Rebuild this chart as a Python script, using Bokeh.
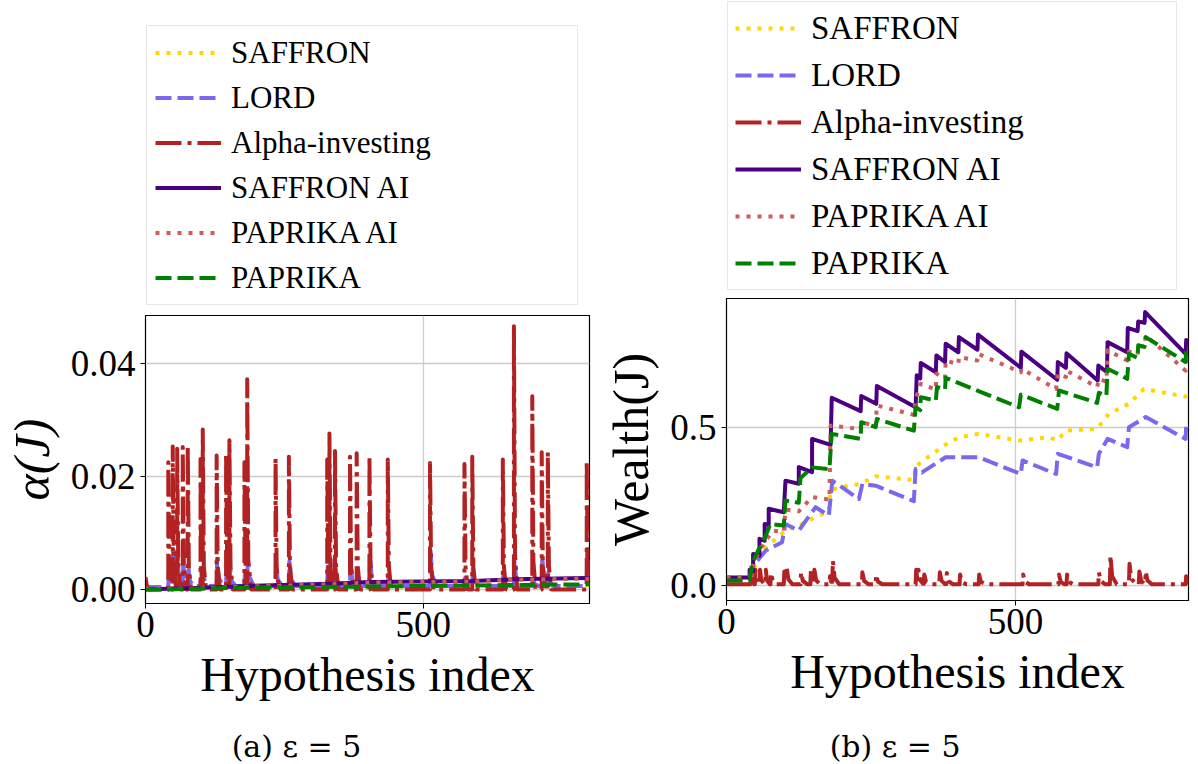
from bokeh.plotting import figure
from bokeh.models import Legend, LegendItem, FixedTicker, Range1d, NumeralTickFormatter, Label
from bokeh.layouts import row, column
from bokeh.embed import file_html
from bokeh.resources import INLINE

# ---------------- data ----------------
SERIES = ["SAFFRON", "LORD", "Alpha-investing", "SAFFRON AI", "PAPRIKA AI", "PAPRIKA"]
X_TICKS = [0, 500]
Y_TICKS_A = [0.0, 0.02, 0.04]
Y_TICKS_B = [0.0, 0.5]
CAPTIONS = ["(a) ε = 5", "(b) ε = 5"]

# --- panel (a): alpha(J) ---
A_SAFFRON_X = [0, 40, 100, 183, 330, 436, 600, 800]
A_SAFFRON_Y = [0.0002, 0.0002, 0.0003, 0.0004, 0.0005, 0.0005, 0.0006, 0.0007]

IDX_DECAY = [0, 40,
             41, 42, 44, 48, 49, 50, 52, 56, 57, 58, 60, 66, 67, 68, 70, 75, 76, 77, 80, 86,
             99, 100, 102, 103, 104, 107, 114, 128, 129, 132, 140, 145, 146, 148, 150, 151, 152, 155, 162,
             178, 179, 181, 183, 184, 187, 195, 234, 235, 238, 246, 258, 259, 262, 270,
             327, 328, 330, 331, 332, 335, 340, 341, 342, 345, 352, 368, 369, 372, 378, 380, 381, 384, 392,
             403, 404, 407, 415, 436, 437, 440, 448, 512, 513, 516, 524, 574, 575, 578, 585, 588, 589, 592, 600,
             643, 644, 647, 655, 663, 664, 667, 675, 696, 697, 700, 708, 713, 714, 717, 722, 724, 725, 728, 736,
             794, 795, 798, 800]

A_LORD_Y = [0.0004, 0.0004,
            0.0004, 0.004, 0.0015, 0.0006, 0.0006, 0.007, 0.0025, 0.0008, 0.0008, 0.006, 0.002, 0.0008,
            0.0008, 0.005, 0.002, 0.0008, 0.0008, 0.004, 0.0015, 0.0006,
            0.0006, 0.002, 0.001, 0.001, 0.003, 0.0012, 0.0006, 0.0006, 0.0054, 0.002, 0.0006,
            0.0006, 0.004, 0.0015, 0.001, 0.001, 0.004, 0.0015, 0.0006,
            0.0006, 0.003, 0.0012, 0.0012, 0.006, 0.0022, 0.0006, 0.0006, 0.0045, 0.0017, 0.0006,
            0.0006, 0.005, 0.0018, 0.0006,
            0.0006, 0.004, 0.0018, 0.0018, 0.0058, 0.002, 0.0008, 0.0008, 0.004, 0.0015, 0.0006,
            0.0006, 0.0045, 0.0017, 0.0008, 0.0008, 0.003, 0.0012, 0.0006,
            0.0006, 0.006, 0.0022, 0.0006, 0.0006, 0.0025, 0.001, 0.0006, 0.0006, 0.0069, 0.0025, 0.0006,
            0.0006, 0.002, 0.001, 0.0006, 0.0006, 0.004, 0.0015, 0.0006,
            0.0006, 0.003, 0.0012, 0.0006, 0.0006, 0.0057, 0.002, 0.0006, 0.0006, 0.002, 0.001, 0.0006,
            0.0006, 0.0057, 0.002, 0.0008, 0.0008, 0.003, 0.0012, 0.0006,
            0.0006, 0.0069, 0.0025, 0.0015]

A_ALPHA_X = [0, 2, 6,
             41, 41, 43, 47, 49, 49, 51, 55, 57, 57, 59, 63, 67, 67, 69, 73, 76, 76, 78, 82,
             99, 99, 100, 102, 103, 103, 105, 109, 128, 128, 130, 134, 145, 145, 147, 150, 151, 151, 153, 157,
             178, 178, 180, 182, 183, 183, 185, 190, 234, 234, 236, 240, 258, 258, 260, 264,
             327, 327, 329, 330, 331, 331, 333, 337, 341, 341, 343, 347, 368, 368, 370, 374, 380, 380, 382, 386,
             403, 403, 405, 409, 436, 436, 438, 442, 512, 512, 514, 518, 574, 574, 576, 580, 588, 588, 590, 594,
             643, 643, 645, 649, 663, 663, 665, 669, 696, 696, 698, 702, 713, 713, 715, 719, 724, 724, 726, 730,
             794, 794, 796, 800]
A_ALPHA_Y = [0.0022, 0.0008, 0.0,
             0, 0.0225, 0.004, 0, 0, 0.0253, 0.004, 0, 0, 0.0249, 0.004, 0, 0, 0.0252, 0.004, 0, 0, 0.0255, 0.004, 0,
             0, 0.0231, 0.004, 0.001, 0.001, 0.0283, 0.004, 0, 0, 0.0237, 0.004, 0, 0, 0.0239, 0.004, 0.0005,
             0.0005, 0.0264, 0.004, 0,
             0, 0.0225, 0.004, 0.001, 0.001, 0.0372, 0.005, 0, 0, 0.0232, 0.004, 0, 0, 0.0235, 0.004, 0,
             0, 0.0230, 0.004, 0.001, 0.001, 0.0276, 0.004, 0, 0, 0.0245, 0.004, 0, 0, 0.0235, 0.004, 0,
             0, 0.0241, 0.004, 0,
             0, 0.0236, 0.004, 0, 0, 0.0230, 0.004, 0, 0, 0.0224, 0.004, 0, 0, 0.0222, 0.004, 0,
             0, 0.0235, 0.004, 0,
             0, 0.0230, 0.004, 0, 0, 0.0466, 0.006, 0, 0, 0.0342, 0.005, 0, 0, 0.0243, 0.004, 0.0005,
             0.0005, 0.0243, 0.004, 0,
             0, 0.0228, 0.004, 0.0005]

A_SAI_X = [0, 40, 103, 183, 331, 403, 588, 663, 794, 800]
A_SAI_Y = [0.0, 0.0001, 0.0003, 0.0006, 0.0010, 0.0013, 0.0015, 0.0018, 0.0020, 0.0020]
A_PAI_X = [0, 40, 103, 183, 331, 403, 588, 663, 794, 800]
A_PAI_Y = [0.0001, 0.0001, 0.0002, 0.0005, 0.0009, 0.0012, 0.0014, 0.0017, 0.0019, 0.0019]
A_PAP_X = [0, 40, 183, 403, 588, 800]
A_PAP_Y = [0.0, 0.0, 0.0003, 0.0005, 0.0007, 0.0009]

# --- panel (b): Wealth(J) ---
B_SAFFRON_X = [0, 40, 47, 56, 68, 102, 125, 154, 177, 180, 194, 232, 258, 324, 327, 336, 379, 402, 436,
               506, 558, 572, 587, 641, 661, 696, 722, 794, 800]
B_SAFFRON_Y = [0.026, 0.026, 0.053, 0.090, 0.121, 0.174, 0.190, 0.216, 0.237, 0.300, 0.311, 0.322, 0.346,
               0.334, 0.374, 0.390, 0.446, 0.469, 0.480, 0.459, 0.469, 0.459, 0.490, 0.496, 0.543, 0.575,
               0.622, 0.598, 0.604]

B_LORD_X = [0, 40, 44, 68, 96, 102, 125, 154, 177, 183, 229, 235, 258, 324, 327, 338, 379, 436, 509, 512,
            570, 573, 641, 644, 659, 693, 696, 725, 794, 795, 800]
B_LORD_Y = [0.020, 0.020, 0.058, 0.111, 0.137, 0.195, 0.174, 0.248, 0.222, 0.332, 0.274, 0.322, 0.316,
            0.267, 0.369, 0.358, 0.406, 0.406, 0.353, 0.396, 0.353, 0.417, 0.374, 0.417, 0.464, 0.438,
            0.501, 0.533, 0.464, 0.506, 0.500]

B_ALPHA_Y = [0.004, 0.004,
             0.004, 0.045, 0.015, 0.004, 0.004, 0.05, 0.017, 0.004, 0.004, 0.05, 0.017, 0.004,
             0.004, 0.05, 0.017, 0.004, 0.004, 0.04, 0.014, 0.004,
             0.004, 0.045, 0.02, 0.02, 0.058, 0.02, 0.004, 0.004, 0.042, 0.015, 0.004,
             0.004, 0.05, 0.02, 0.01, 0.01, 0.05, 0.017, 0.004,
             0.004, 0.03, 0.012, 0.012, 0.079, 0.025, 0.004, 0.004, 0.042, 0.015, 0.004,
             0.004, 0.035, 0.012, 0.004,
             0.004, 0.05, 0.02, 0.02, 0.05, 0.017, 0.006, 0.006, 0.035, 0.012, 0.004,
             0.004, 0.042, 0.015, 0.005, 0.005, 0.04, 0.014, 0.004,
             0.004, 0.035, 0.012, 0.004, 0.004, 0.035, 0.012, 0.004, 0.004, 0.035, 0.012, 0.004,
             0.004, 0.035, 0.012, 0.004, 0.004, 0.035, 0.012, 0.004,
             0.004, 0.042, 0.015, 0.004, 0.004, 0.095, 0.03, 0.004, 0.004, 0.069, 0.022, 0.004,
             0.004, 0.045, 0.016, 0.006, 0.006, 0.045, 0.016, 0.004,
             0.004, 0.03, 0.012, 0.008]

B_SAI_X = [0, 40, 40, 46, 46, 57, 57, 66, 66, 73, 73, 99, 102, 125, 125, 148, 148, 180, 182, 232, 233, 259,
           260, 327, 329, 335, 336, 362, 363, 378, 379, 401, 402, 434, 435, 509, 510, 572, 573, 587, 588, 642,
           643, 658, 659, 693, 694, 711, 712, 723, 724, 794, 795, 800]
B_SAI_Y = [0.026, 0.026, 0.050, 0.046, 0.100, 0.095, 0.148, 0.142, 0.195, 0.192, 0.243, 0.232, 0.332, 0.322,
           0.375, 0.359, 0.464, 0.445, 0.594, 0.552, 0.600, 0.575, 0.631, 0.564, 0.665, 0.655, 0.704, 0.675,
           0.728, 0.707, 0.765, 0.738, 0.786, 0.746, 0.794, 0.689, 0.740, 0.651, 0.707, 0.689, 0.735, 0.649,
           0.696, 0.675, 0.770, 0.738, 0.815, 0.805, 0.835, 0.831, 0.865, 0.733, 0.777, 0.772]

B_PAI_X = [0, 40, 50, 64, 80, 99, 102, 125, 148, 178, 180, 232, 233, 258, 260, 324, 327, 336, 362, 363,
           378, 379, 401, 402, 434, 435, 509, 510, 570, 573, 587, 588, 641, 644, 657, 659, 693, 696, 711, 712,
           723, 725, 794, 795, 800]
B_PAI_Y = [0.026, 0.026, 0.084, 0.132, 0.174, 0.170, 0.240, 0.235, 0.280, 0.272, 0.506, 0.495, 0.517, 0.505,
           0.570, 0.540, 0.590, 0.638, 0.620, 0.670, 0.655, 0.712, 0.700, 0.723, 0.712, 0.733, 0.675, 0.686,
           0.622, 0.670, 0.660, 0.680, 0.628, 0.654, 0.645, 0.744, 0.712, 0.740, 0.730, 0.760, 0.755, 0.791,
           0.680, 0.720, 0.715]

B_PAP_X = [0, 40, 44, 56, 66, 76, 99, 102, 125, 128, 148, 178, 182, 232, 233, 258, 260, 324, 327, 335, 336,
           362, 364, 378, 379, 506, 509, 572, 575, 641, 644, 657, 659, 693, 696, 711, 712, 723, 725, 794, 795, 800]
B_PAP_Y = [0.016, 0.016, 0.069, 0.116, 0.150, 0.195, 0.190, 0.269, 0.262, 0.340, 0.374, 0.368, 0.480, 0.464,
           0.517, 0.501, 0.527, 0.490, 0.564, 0.555, 0.596, 0.585, 0.628, 0.620, 0.657, 0.564, 0.604, 0.559,
           0.617, 0.578, 0.610, 0.600, 0.686, 0.654, 0.733, 0.720, 0.760, 0.755, 0.786, 0.707, 0.749, 0.745]

# ---------------- styles ----------------
COLORS = ["#FFD700", "#7B68EE", "#B22222", "#4B0082", "#CD5C5C", "#008000"]
DASHES = ["4 7", "16 6", "26 6 4 6", "solid", "4 7", "16 6"]
LW = 4
SERIF = "Liberation Serif"


def bare_fig(fw, fh, bl, bt, br, bb, xr=(0, 1)):
    f = figure(frame_width=fw, frame_height=fh, x_range=Range1d(*xr), y_range=Range1d(0, 1),
               min_border_left=bl, min_border_top=bt, min_border_right=br, min_border_bottom=bb,
               x_axis_type=None, y_axis_type=None, output_backend="svg", toolbar_location=None,
               title=None)
    f.grid.visible = False
    f.outline_line_color = None
    f.background_fill_color = "white"
    f.border_fill_color = "white"
    return f


def make_legend_fig(xs, ys, fw, fh, bl, bt, br, bb, fs, lh, sp, pad):
    # the series are drawn here only as legend sources; the x-range is set so that
    # none of their points fall inside this legend-only frame
    f = bare_fig(fw, fh, bl, bt, br, bb, xr=(-3, -2))
    rs = [f.line(xs[i], ys[i], line_color=COLORS[i], line_width=LW, line_dash=DASHES[i])
          for i in range(6)]
    gw = 66
    legend = Legend(items=[LegendItem(label=SERIES[i], renderers=[rs[i]]) for i in range(6)],
                    location="top_left", orientation="vertical",
                    label_text_font=SERIF, label_text_font_size=fs, label_text_color="black",
                    glyph_width=gw, glyph_height=lh, label_height=lh,
                    label_standoff=10, spacing=sp, padding=pad, margin=1,
                    label_width=fw - 2 * pad - gw - 10 - 14,
                    border_line_color="#cfcfcf", border_line_width=1.3,
                    background_fill_color="white", background_fill_alpha=1.0)
    f.add_layout(legend)
    return f


def make_caption_fig(fw, fh, bl, br, text, cx, cy):
    f = bare_fig(fw, fh, bl, 0, br, 0)
    f.add_layout(Label(x=cx, y=cy, text=text, text_align="center", text_baseline="middle",
                       text_font="DejaVu Serif", text_font_size="30px", text_color="black"))
    return f


def make_panel(xs, ys, yr, yticks, yfmt, ylabel, ylabel_style, fw, fh, bl, br, bb):
    p = figure(frame_width=fw, frame_height=fh, x_range=Range1d(0, 799), y_range=Range1d(*yr),
               min_border_left=bl, min_border_top=0, min_border_right=br, min_border_bottom=bb,
               output_backend="svg", toolbar_location=None, title=None)
    p.background_fill_color = "white"
    p.border_fill_color = "white"
    p.outline_line_color = "black"
    p.outline_line_width = 1.2
    for i in range(6):
        p.line(xs[i], ys[i], line_color=COLORS[i], line_width=LW, line_dash=DASHES[i],
               line_join="round", line_cap="butt")

    p.xaxis.ticker = FixedTicker(ticks=X_TICKS)
    p.yaxis.ticker = FixedTicker(ticks=yticks)
    p.yaxis.formatter = NumeralTickFormatter(format=yfmt)
    for ax in (p.xaxis, p.yaxis):
        ax.major_label_text_font = SERIF
        ax.major_label_text_font_size = "37px"
        ax.major_label_text_color = "black"
        ax.axis_label_text_font = SERIF
        ax.axis_label_text_color = "black"
        ax.major_tick_out = 5
        ax.major_tick_in = 0
        ax.minor_tick_out = 0
        ax.minor_tick_in = 0
        ax.axis_line_color = "black"
        ax.major_tick_line_color = "black"
    p.xaxis.axis_label = "Hypothesis index"
    p.xaxis.axis_label_text_font_size = "48px"
    p.xaxis.axis_label_text_font_style = "normal"
    p.xaxis.major_label_standoff = 3
    p.xaxis.axis_label_standoff = 8
    p.yaxis.axis_label = ylabel
    p.yaxis.axis_label_text_font_size = "50px"
    p.yaxis.axis_label_text_font_style = ylabel_style
    p.yaxis.major_label_standoff = 5
    p.yaxis.axis_label_standoff = 8
    p.grid.grid_line_color = "#cccccc"
    p.grid.grid_line_width = 1.3
    return p


xs_a = [A_SAFFRON_X, IDX_DECAY, A_ALPHA_X, A_SAI_X, A_PAI_X, A_PAP_X]
ys_a = [A_SAFFRON_Y, A_LORD_Y, A_ALPHA_Y, A_SAI_Y, A_PAI_Y, A_PAP_Y]
xs_b = [B_SAFFRON_X, B_LORD_X, IDX_DECAY, B_SAI_X, B_PAI_X, B_PAP_X]
ys_b = [B_SAFFRON_Y, B_LORD_Y, B_ALPHA_Y, B_SAI_Y, B_PAI_Y, B_PAP_Y]

# left column: legend box, plot frame (315..603), caption
leg1 = make_legend_fig(xs_a, ys_a, 444, 286, 145, 24, 5, 5, "31px", 37, 8, 8)
p1 = make_panel(xs_a, ys_a, (-0.0025, 0.0485), Y_TICKS_A, "0.00", "α(J)", "italic", 444, 288, 145, 5, 115)
cap1 = make_caption_fig(444, 46, 145, 5, CAPTIONS[0], 0.34, 0.39)

# right column: legend box, plot frame (298..600), caption
leg2 = make_legend_fig(xs_b, ys_b, 462, 294, 132, 0, 10, 4, "33px", 38, 9, 7)
p2 = make_panel(xs_b, ys_b, (-0.047, 0.908), Y_TICKS_B, "0.0", "Wealth(J)", "normal", 462, 302, 132, 10, 118)
cap2 = make_caption_fig(462, 46, 132, 10, CAPTIONS[1], 0.365, 0.39)

layout = row(column(leg1, p1, cap1, spacing=0), column(leg2, p2, cap2, spacing=0), spacing=0)
open("out.html", "w").write(file_html(layout, INLINE))
